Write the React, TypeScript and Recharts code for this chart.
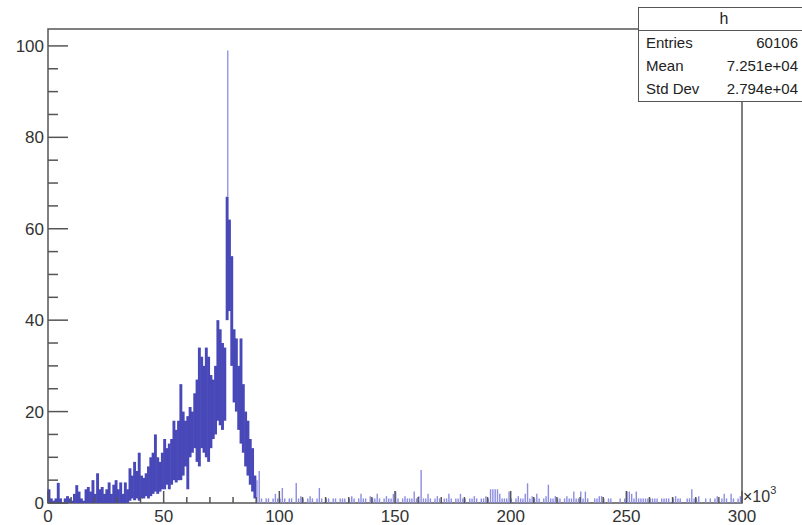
import { Bar, ComposedChart, ReferenceArea, XAxis, YAxis } from 'recharts';

const FRAME = '#555';
const CORE = '#4848b8';
const LIGHT = '#8c8ce0';
const FONT = '"Liberation Sans", Arial, sans-serif';

// envelope of the histogram in bins of 1 (x10^3), bins 0..89
const coreUpper = [
  3, 1, 0.5, 1, 4.4, 1, 0, 1, 1.5, 1,
  0.5, 2, 3.9, 2.5, 1, 0.5, 3, 3.5, 2.5, 5,
  2, 6.5, 3, 3.5, 2, 3, 4.5, 2, 4, 5,
  3, 4.5, 2, 4.5, 3, 7.6, 6, 9, 7, 11,
  6, 5.5, 6.5, 8, 10, 11, 15, 10, 9, 11,
  14, 12, 13, 14, 18, 16, 18, 26, 20, 18,
  19, 21, 20, 24, 27, 34, 32, 30, 34, 32,
  28, 27, 30, 40, 38, 35, 34, 67, 62, 54,
  38, 36, 30, 36, 26, 20, 18, 14, 12, 6,
];
const coreLower = [
  0, 0, 0, 0, 0, 0, 0, 0, 0, 0,
  0, 0, 0, 0, 0, 0, 0, 0, 0, 0,
  0, 0, 0, 0, 0, 0, 0, 0, 0, 0,
  0, 0, 0, 0, 0, 0.5, 1, 0.6, 1, 0.5,
  1, 1, 1.5, 1, 1.5, 2, 2.5, 2, 2.5, 3,
  3, 4, 3, 4, 5, 4.5, 5, 5, 6, 8,
  3, 10, 11, 12, 9, 8, 12, 11, 10, 9,
  12, 14, 15, 18, 17, 16, 18, 40, 42, 30,
  22, 20, 16, 13, 11, 8, 6, 4, 2.5, 1,
];

// sparse tail, bins 90..299
const tailCounts = [
  5, 7, 1, 0, 1, 1, 0, 1, 2, 1,
  1, 3.3, 1, 0, 1, 1, 0, 4.4, 1, 1.5,
  1, 0, 1, 1.5, 1, 0, 1, 3.3, 1, 0,
  1, 1, 0, 1, 1, 0, 1, 1, 1, 0,
  1, 1.5, 1, 0, 1, 2, 1, 1, 0, 1.5,
  1, 1, 2, 1, 0, 1, 1.5, 1, 1, 2,
  2.5, 1, 0, 1, 1.5, 1, 1, 1, 2.5, 1,
  1.5, 7.2, 1, 1, 2, 1, 0, 1, 1.5, 1,
  0, 1, 1, 2, 1, 0, 1, 1, 2, 1,
  1, 0, 1, 1, 1.5, 1, 0, 1, 1, 1.5,
  1, 3, 3, 3, 3, 2, 1, 1, 1, 2.5,
  1, 0, 1, 1.5, 1, 1, 2, 4.3, 1, 1.5,
  1, 2, 1, 0, 1, 1.5, 4, 1, 1, 1.5,
  1, 1, 0, 1, 1.5, 1, 1, 2.5, 1, 1,
  2.5, 1, 2.5, 1, 0, 0, 1, 1, 1.5, 1.5,
  1, 0, 1, 1, 0, 0, 0, 1, 0, 1,
  2.5, 2.5, 2, 1, 2.5, 1, 1, 1, 1, 1,
  1, 1, 1, 1, 0, 1, 1, 1, 1, 0,
  1, 1.5, 1, 1, 0, 0, 1, 1, 3, 1,
  1, 1.5, 0, 0, 1, 0, 1, 0, 1, 1.5,
  0, 1, 2, 1, 0, 2, 1, 0, 1, 1.5,
];

const spikes = [{ bin: 77, from: 67, to: 99 }];

const xTicks = Array.from({ length: 31 }, (_, i) => i * 10);
const yTicks = Array.from({ length: 21 }, (_, i) => i * 5);

const stats = [
  ['Entries', '60106'],
  ['Mean', '7.251e+04'],
  ['Std Dev', '2.794e+04'],
];

const data = Array.from({ length: 300 }, (_, i) => {
  const spike = spikes.find((s) => s.bin === i);
  return {
    x: i + 0.5,
    core: i < coreUpper.length ? [coreLower[i], coreUpper[i]] : null,
    tail: i >= coreUpper.length && tailCounts[i - coreUpper.length] > 0 ? [0, tailCounts[i - coreUpper.length]] : null,
    spike: spike ? [spike.from, spike.to] : null,
  };
});

// widen each bin slightly so neighbouring bins merge into one band
function BinShape(props: any) {
  const { x, y, width, height, fill } = props;
  if (!height || !width) return null;
  const w = Math.max(width, 2.9);
  return <rect x={x + width / 2 - w / 2} y={y} width={w} height={height} fill={fill} />;
}

function XTick(props: any) {
  const { x, y, payload } = props;
  const v = payload.value;
  const major = v % 50 === 0;
  return (
    <g>
      <line x1={x} x2={x} y1={y} y2={y - (major ? 12 : 6)} stroke={FRAME} strokeWidth={1.5} />
      {major ? (
        <text x={x} y={y + 19} textAnchor="middle" fontSize={17} fill="#333" fontFamily={FONT}>
          {v}
        </text>
      ) : null}
    </g>
  );
}

function YTick(props: any) {
  const { x, y, payload } = props;
  const v = payload.value;
  const major = v % 20 === 0;
  return (
    <g>
      <line x1={x} x2={x + (major ? 20 : 10)} y1={y} y2={y} stroke={FRAME} strokeWidth={1.5} />
      {major ? (
        <text x={x - 4} y={y + 6} textAnchor="end" fontSize={17} fill="#333" fontFamily={FONT}>
          {v}
        </text>
      ) : null}
    </g>
  );
}

export default function App() {
  return (
    <div style={{ position: 'absolute', left: 0, top: 0, width: 802, height: 525, overflow: 'hidden', background: '#fff' }}>
      <ComposedChart
        width={802}
        height={525}
        data={data}
        barCategoryGap={0}
        barGap={0}
        margin={{ top: 29, right: 60, bottom: 0, left: 0 }}
      >
        <XAxis
          xAxisId="main"
          type="number"
          dataKey="x"
          domain={[0, 300]}
          ticks={xTicks}
          interval={0}
          tickSize={0}
          tickMargin={0}
          axisLine={false}
          tick={<XTick />}
          height={22}
        />
        <XAxis xAxisId="tail" type="number" dataKey="x" domain={[0, 300]} hide />
        <XAxis xAxisId="spike" type="number" dataKey="x" domain={[0, 300]} hide />
        <YAxis
          type="number"
          domain={[0, 103.7]}
          ticks={yTicks}
          interval={0}
          tickSize={0}
          tickMargin={0}
          axisLine={false}
          tick={<YTick />}
          width={48}
          allowDataOverflow
        />
        <Bar xAxisId="main" dataKey="core" fill={CORE} shape={<BinShape />} isAnimationActive={false} />
        <Bar xAxisId="tail" dataKey="tail" fill={LIGHT} barSize={1.4} isAnimationActive={false} />
        <Bar xAxisId="spike" dataKey="spike" fill={LIGHT} barSize={1.3} isAnimationActive={false} />
        <ReferenceArea
          xAxisId="main"
          x1={0}
          x2={300}
          y1={0}
          y2={103.7}
          fill="none"
          stroke={FRAME}
          strokeWidth={1.5}
          ifOverflow="visible"
        />
      </ComposedChart>
      <div style={{ position: 'absolute', left: 743, top: 486, fontFamily: FONT, fontSize: 16, color: '#333' }}>
        ×10<sup style={{ fontSize: 11, position: 'relative', top: -2 }}>3</sup>
      </div>
      <div
        style={{
          position: 'absolute',
          left: 638,
          top: 7,
          width: 172,
          height: 95,
          border: `1.5px solid ${FRAME}`,
          background: '#fff',
          fontFamily: FONT,
          fontSize: 15,
          color: '#222',
          boxSizing: 'border-box',
        }}
      >
        <div style={{ height: 22, lineHeight: '22px', textAlign: 'center', borderBottom: `1.5px solid ${FRAME}`, fontSize: 16 }}>
          h
        </div>
        {stats.map(([label, value]) => (
          <div key={label} style={{ display: 'flex', justifyContent: 'space-between', height: 23, lineHeight: '23px', padding: '0 11px 0 7px' }}>
            <span>{label}</span>
            <span>{value}</span>
          </div>
        ))}
      </div>
    </div>
  );
}
